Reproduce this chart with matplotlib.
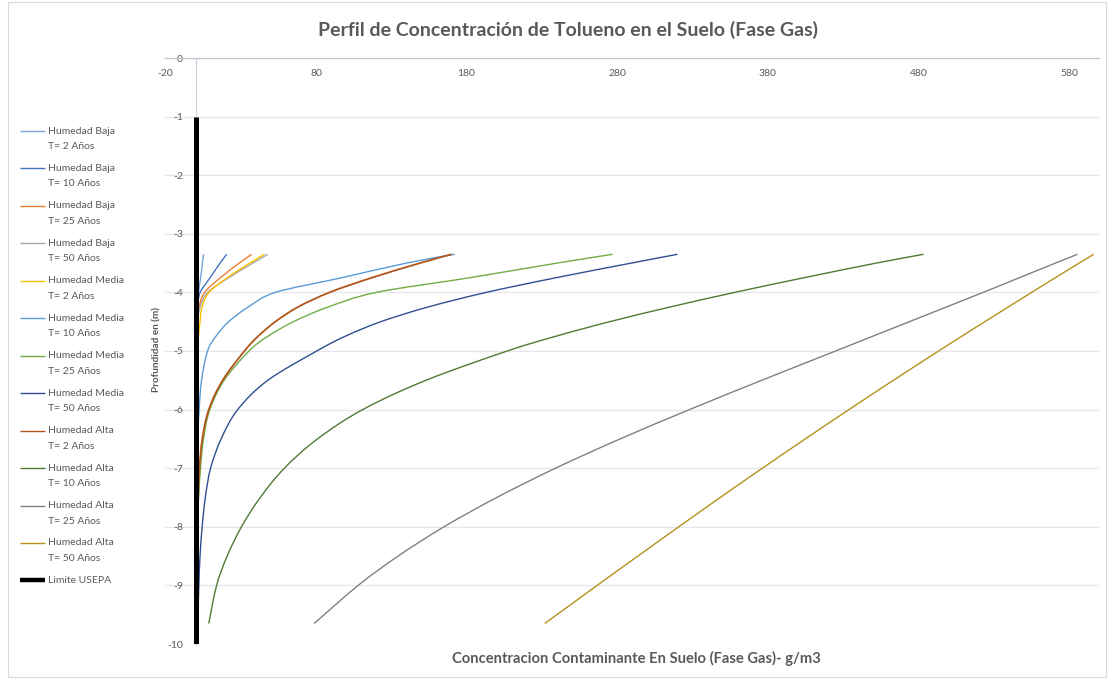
import matplotlib
matplotlib.use("Agg")
import matplotlib.pyplot as plt
from matplotlib.lines import Line2D
from matplotlib.patches import Rectangle, PathPatch
from matplotlib.path import Path

# Depths (m) at which the gas-phase concentration was evaluated
depth = [-3.35, -3.5, -3.75, -4.0, -4.25, -4.5, -4.75, -5.0, -5.5,
         -6.0, -6.5, -7.0, -7.5, -8.0, -8.5, -9.0, -9.65]

# Gas-phase toluene concentration (g/m3) for each humidity / time scenario
baja_2 = [5.3, 4.6, 3.4, 2.0, 1.2, 0.7, 0.4, 0.25, 0.1, 0.05, 0.02, 0.01, 0, 0, 0, 0, 0]
baja_10 = [20.7, 16.3, 9.7, 3.1, 1.3, 0.6, 0.3, 0.15, 0.05, 0.02, 0.01, 0, 0, 0, 0, 0, 0]
baja_25 = [37.3, 29.0, 16.5, 6.0, 2.3, 1.1, 0.5, 0.25, 0.08, 0.03, 0.01, 0, 0, 0, 0, 0, 0]
baja_50 = [47.9, 38.0, 22.0, 8.0, 3.0, 1.5, 0.7, 0.35, 0.1, 0.04, 0.02, 0.01, 0, 0, 0, 0, 0]
media_2 = [45.7, 36.0, 21.0, 9.0, 4.3, 3.0, 2.0, 1.3, 0.6, 0.3, 0.15, 0.08, 0.04, 0.02, 0.01, 0, 0]
media_10 = [172, 140, 97, 53, 35, 22, 13.5, 8.0, 4.0, 2.4, 1.5, 1.0, 0.7, 0.5, 0.35, 0.25, 0.15]
media_25 = [277, 240, 182, 120, 88, 65, 48, 35.5, 19, 9.5, 5.3, 3.3, 2.0, 1.2, 0.8, 0.5, 0.3]
media_50 = [320, 289.3, 239.3, 193, 154.3, 123, 99.3, 80.5, 48, 28, 17, 10, 6.5, 4.4, 3.0, 2.2, 1.5]
alta_2 = [170, 149, 117, 89, 68, 53, 41.5, 32.5, 18, 8.8, 4.5, 2.6, 1.8, 1.2, 0.8, 0.5, 0.3]
alta_10 = [483.4, 452, 404, 358, 315, 275, 239, 207, 153, 111, 81, 59, 43, 30.5, 21, 14, 8.8]
alta_25 = [585.6, 571, 547, 523, 498.5, 474, 449.5, 425, 376, 328, 282, 239, 200, 165, 134.5, 108, 78.8]
alta_50 = [596.4, 586.8, 570.9, 555.2, 539.6, 524.1, 508.7, 493.4, 463.4, 433.9,
           404.9, 376.4, 348.4, 320.9, 293.7, 266.7, 231.9]

# USEPA limit line
limite_x = [0, 0]
limite_y = [-1, -10]

series = [
    ("Humedad Baja\nT= 2 Años", baja_2, "#7BA3DF", 1.0),
    ("Humedad Baja\nT= 10 Años", baja_10, "#4472C4", 1.0),
    ("Humedad Baja\nT= 25 Años", baja_25, "#ED7D31", 1.0),
    ("Humedad Baja\nT= 50 Años", baja_50, "#A5A5A5", 1.0),
    ("Humedad Media\nT= 2 Años", media_2, "#FFC000", 1.0),
    ("Humedad Media\nT= 10 Años", media_10, "#5B9BD5", 1.0),
    ("Humedad Media\nT= 25 Años", media_25, "#70AD47", 1.0),
    ("Humedad Media\nT= 50 Años", media_50, "#2F4F8F", 1.0),
    ("Humedad Alta\nT= 2 Años", alta_2, "#B2541A", 1.3),
    ("Humedad Alta\nT= 10 Años", alta_10, "#4F7A33", 1.0),
    ("Humedad Alta\nT= 25 Años", alta_25, "#808080", 1.0),
    ("Humedad Alta\nT= 50 Años", alta_50, "#B8901E", 1.0),
]

x_ticks = [-20, 80, 180, 280, 380, 480, 580]
y_ticks = [0, -1, -2, -3, -4, -5, -6, -7, -8, -9, -10]


def smooth_path(xs, ys):
    """Smoothed polyline through the points, as cubic Bezier segments."""
    pts = list(zip(xs, ys))
    n = len(pts)
    verts = [pts[0]]
    codes = [Path.MOVETO]
    for i in range(n - 1):
        p0 = pts[i - 1] if i > 0 else pts[i]
        p1 = pts[i]
        p2 = pts[i + 1]
        p3 = pts[i + 2] if i + 2 < n else pts[i + 1]
        c1 = (p1[0] + (p2[0] - p0[0]) / 6, p1[1] + (p2[1] - p0[1]) / 6)
        c2 = (p2[0] - (p3[0] - p1[0]) / 6, p2[1] - (p3[1] - p1[1]) / 6)
        verts += [c1, c2, p2]
        codes += [Path.CURVE4] * 3
    return Path(verts, codes)


plt.rcParams["font.family"] = ["Lato", "DejaVu Sans"]
text_color = "#595959"

W, H = 1113, 679
fig = plt.figure(figsize=(W / 100, H / 100), dpi=100)
fig.patch.set_facecolor("white")

left_px, right_px, top_px, bottom_px = 165.4, 1099.1, 58, 644
ax = fig.add_axes([left_px / W, 1 - bottom_px / H,
                   (right_px - left_px) / W, (bottom_px - top_px) / H])

for label, values, color, lw in series:
    ax.add_patch(PathPatch(smooth_path(values, depth), fill=False,
                           edgecolor=color, lw=lw, capstyle="butt", zorder=3))
ax.plot(limite_x, limite_y, color="black", lw=3.6, solid_capstyle="butt", zorder=5)

ax.set_xlim(-20, 600)
ax.set_ylim(-10, 0)
ax.set_xticks(x_ticks)
ax.set_yticks(y_ticks)
ax.set_xticklabels([str(v) for v in x_ticks])
ax.set_yticklabels([str(v) for v in y_ticks])

# Axes cross at the origin: x labels under the top line, y labels beside x = 0
ax.spines["bottom"].set_position(("data", 0))
ax.spines["left"].set_position(("data", 0))
for side in ("top", "right"):
    ax.spines[side].set_visible(False)
ax.spines["bottom"].set_color("#BFC3CC")
ax.spines["left"].set_color("#CDD1DA")
ax.spines["bottom"].set_linewidth(0.9)
ax.spines["left"].set_linewidth(0.9)
ax.spines["bottom"].set_zorder(2)

ax.tick_params(axis="x", length=0, pad=8, labelsize=7.5, labelcolor=text_color)
ax.tick_params(axis="y", length=0, pad=9, labelsize=7.5, labelcolor=text_color)

ax.yaxis.grid(True, color="#E4E6EB", lw=0.9, zorder=0)
ax.xaxis.grid(False)
ax.set_axisbelow(True)

ax.set_xlabel("Concentracion Contaminante En Suelo (Fase Gas)- g/m3",
              fontsize=10.6, fontweight="bold", color=text_color)
ax.xaxis.set_label_coords(0.504, -0.024)
ax.xaxis.label.set_va("center")
ax.set_ylabel("Profundidad en (m)", fontsize=7.2, fontweight="bold", color=text_color)
ax.yaxis.set_label_coords(-0.009, 0.502)
ax.yaxis.label.set_va("center")

fig.text(568.5 / W, 1 - 30 / H,
         "Perfil de Concentración de Tolueno en el Suelo (Fase Gas)",
         ha="center", va="center", fontsize=14, fontweight="bold", color=text_color)

# Legend column on the left
entries = [(lbl, col, lw) for lbl, _, col, lw in series] + [("Limite USEPA", "black", 3.2)]
y0, dy = 131, 37.45
for i, (lbl, col, lw) in enumerate(entries):
    yy = 1 - (y0 + i * dy) / H
    fig.add_artist(Line2D([20 / W, 45 / W], [yy, yy], color=col,
                          lw=lw if col == "black" else 1.0, solid_capstyle="butt"))
    for j, part in enumerate(lbl.split("\n")):
        fig.text(48 / W, 1 - (y0 + i * dy + j * 15.5) / H, part,
                 ha="left", va="center", fontsize=7.5, color=text_color)

# Chart area border
fig.add_artist(Rectangle((8 / W, 2 / H), (1106 - 8) / W, (677 - 2) / H,
                         transform=fig.transFigure, fill=False,
                         edgecolor="#D9D9D9", lw=0.8))

fig.savefig("out.png", dpi=100, facecolor="white")
